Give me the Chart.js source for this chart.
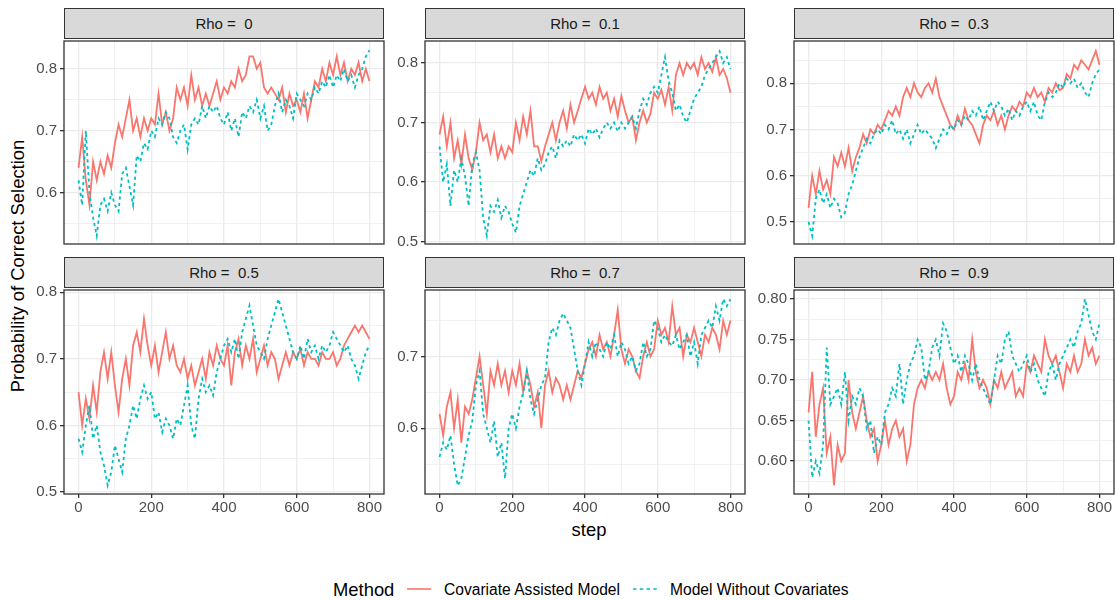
<!DOCTYPE html>
<html>
<head>
<meta charset="utf-8">
<script src="https://cdn.jsdelivr.net/npm/chart.js@4.4.1/dist/chart.umd.min.js"></script>
<style>
  body { margin: 0; background: #fff; font-family: "Liberation Sans", Arial, sans-serif; }
  #wrap { position: relative; width: 1116px; height: 600px; overflow: hidden; }
  #wrap canvas { position: absolute; }
  .strip { position: absolute; box-sizing: border-box; background: #D9D9D9; border: 1.3px solid #333333;
           color: #1A1A1A; font-size: 15px; text-align: center; white-space: pre; line-height: 29px; height: 31px; width: 320px; }
  .txt { position: absolute; white-space: pre; color: #000; }
</style>
</head>
<body>
<div id="wrap">
  <div class="txt" id="ytitle" style="left:-132px;top:254px;width:300px;height:24px;line-height:24px;font-size:18.4px;text-align:center;transform:rotate(-90deg);">Probability of Correct Selection</div>
  <div class="txt" style="left:489px;top:518px;width:200px;height:24px;line-height:24px;font-size:18.4px;text-align:center;">step</div>

  <div class="txt" style="left:333px;top:578px;height:24px;line-height:24px;font-size:18.4px;">Method</div>
  <svg style="position:absolute;left:407px;top:583px" width="24" height="12"><line x1="0" y1="6" x2="24" y2="6" stroke="#F8766D" stroke-width="1.6"/></svg>
  <div class="txt" style="left:444px;top:578px;height:24px;line-height:24px;font-size:15.6px;">Covariate Assisted Model</div>
  <svg style="position:absolute;left:633px;top:583px" width="24" height="12"><line x1="0" y1="6" x2="24" y2="6" stroke="#00BFC4" stroke-width="1.6" stroke-dasharray="3.4 3.4"/></svg>
  <div class="txt" style="left:670px;top:578px;height:24px;line-height:24px;font-size:15.6px;">Model Without Covariates</div>
</div>
<script>
// step index (every 10th step)
const steps = [
  0, 10, 20, 30, 40, 50, 60, 70, 80, 90,
  100, 110, 120, 130, 140, 150, 160, 170, 180, 190,
  200, 210, 220, 230, 240, 250, 260, 270, 280, 290,
  300, 310, 320, 330, 340, 350, 360, 370, 380, 390,
  400, 410, 420, 430, 440, 450, 460, 470, 480, 490,
  500, 510, 520, 530, 540, 550, 560, 570, 580, 590,
  600, 610, 620, 630, 640, 650, 660, 670, 680, 690,
  700, 710, 720, 730, 740, 750, 760, 770, 780, 790,
  800
];

const facetLabels = ['Rho =  0', 'Rho =  0.1', 'Rho =  0.3', 'Rho =  0.5', 'Rho =  0.7', 'Rho =  0.9'];

// Covariate Assisted Model
const covRho0 = [
  0.64, 0.69, 0.62, 0.58, 0.65, 0.62, 0.65, 0.63, 0.66, 0.64,
  0.68, 0.71, 0.69, 0.72, 0.75, 0.70, 0.72, 0.69, 0.72, 0.70,
  0.72, 0.71, 0.76, 0.71, 0.73, 0.70, 0.72, 0.77, 0.75, 0.77,
  0.74, 0.79, 0.75, 0.77, 0.74, 0.76, 0.74, 0.76, 0.78, 0.75,
  0.77, 0.76, 0.78, 0.77, 0.80, 0.78, 0.79, 0.82, 0.82, 0.80,
  0.81, 0.77, 0.76, 0.77, 0.76, 0.75, 0.77, 0.73, 0.76, 0.74,
  0.75, 0.73, 0.76, 0.72, 0.75, 0.78, 0.77, 0.80, 0.78, 0.81,
  0.79, 0.82, 0.79, 0.81, 0.78, 0.80, 0.79, 0.81, 0.78, 0.80,
  0.78
];
const covRho01 = [
  0.68, 0.71, 0.66, 0.70, 0.64, 0.67, 0.63, 0.68, 0.64, 0.62,
  0.65, 0.70, 0.67, 0.68, 0.65, 0.68, 0.64, 0.66, 0.64, 0.66,
  0.65, 0.70, 0.67, 0.71, 0.68, 0.72, 0.66, 0.66, 0.635, 0.66,
  0.68, 0.70, 0.67, 0.70, 0.72, 0.69, 0.73, 0.70, 0.72, 0.74,
  0.76, 0.74, 0.75, 0.73, 0.76, 0.74, 0.75, 0.72, 0.74, 0.71,
  0.745, 0.72, 0.70, 0.71, 0.67, 0.70, 0.72, 0.70, 0.715, 0.75,
  0.74, 0.755, 0.73, 0.76, 0.72, 0.78, 0.80, 0.78, 0.80, 0.79,
  0.80, 0.78, 0.81, 0.79, 0.80, 0.785, 0.81, 0.78, 0.79, 0.775,
  0.75
];
const covRho03 = [
  0.53, 0.60, 0.56, 0.61, 0.57, 0.59, 0.56, 0.64, 0.62, 0.65,
  0.62, 0.66, 0.61, 0.64, 0.66, 0.69, 0.67, 0.70, 0.69, 0.71,
  0.70, 0.72, 0.74, 0.73, 0.75, 0.73, 0.77, 0.79, 0.77, 0.80,
  0.78, 0.77, 0.79, 0.80, 0.78, 0.81, 0.77, 0.75, 0.73, 0.71,
  0.70, 0.73, 0.71, 0.745, 0.72, 0.71, 0.69, 0.67, 0.71, 0.73,
  0.72, 0.74, 0.71, 0.73, 0.70, 0.73, 0.75, 0.74, 0.76, 0.75,
  0.78, 0.77, 0.79, 0.77, 0.78, 0.76, 0.79, 0.78, 0.80, 0.785,
  0.79, 0.82, 0.81, 0.84, 0.83, 0.85, 0.84, 0.83, 0.85, 0.87,
  0.84
];
const covRho05 = [
  0.65, 0.60, 0.64, 0.61, 0.66, 0.62, 0.68, 0.71, 0.67, 0.71,
  0.66, 0.62, 0.67, 0.70, 0.66, 0.72, 0.74, 0.71, 0.76, 0.72,
  0.69, 0.72, 0.68, 0.71, 0.74, 0.70, 0.72, 0.69, 0.68, 0.70,
  0.67, 0.69, 0.66, 0.68, 0.70, 0.67, 0.71, 0.69, 0.72, 0.70,
  0.69, 0.72, 0.66, 0.71, 0.73, 0.69, 0.72, 0.70, 0.73, 0.68,
  0.70, 0.72, 0.69, 0.71, 0.70, 0.67, 0.69, 0.71, 0.69, 0.71,
  0.70, 0.715, 0.69, 0.71, 0.70, 0.70, 0.69, 0.71, 0.70, 0.70,
  0.71, 0.69, 0.70, 0.72, 0.73, 0.74, 0.75, 0.74, 0.75, 0.74,
  0.73
];
const covRho07 = [
  0.62, 0.59, 0.63, 0.65, 0.60, 0.64, 0.58, 0.63, 0.62, 0.64,
  0.67, 0.70, 0.66, 0.62, 0.68, 0.66, 0.69, 0.66, 0.68, 0.65,
  0.68, 0.66, 0.69, 0.65, 0.68, 0.66, 0.63, 0.65, 0.60, 0.66,
  0.68, 0.65, 0.67, 0.66, 0.64, 0.66, 0.64, 0.66, 0.68, 0.67,
  0.69, 0.71, 0.72, 0.70, 0.73, 0.71, 0.72, 0.70, 0.73, 0.765,
  0.71, 0.69, 0.71, 0.70, 0.68, 0.67, 0.70, 0.72, 0.70, 0.71,
  0.75, 0.73, 0.74, 0.72, 0.77, 0.73, 0.74, 0.70, 0.73, 0.72,
  0.74, 0.72, 0.70, 0.73, 0.72, 0.74, 0.73, 0.71, 0.75, 0.73,
  0.75
];
const covRho09 = [
  0.66, 0.71, 0.63, 0.67, 0.69, 0.61, 0.63, 0.57, 0.62, 0.60,
  0.61, 0.70, 0.66, 0.64, 0.66, 0.68, 0.65, 0.63, 0.64, 0.60,
  0.62, 0.65, 0.62, 0.64, 0.65, 0.63, 0.64, 0.60, 0.62, 0.67,
  0.69, 0.70, 0.69, 0.71, 0.70, 0.71, 0.70, 0.72, 0.69, 0.67,
  0.68, 0.71, 0.70, 0.72, 0.70, 0.75, 0.71, 0.69, 0.70, 0.69,
  0.67, 0.70, 0.69, 0.71, 0.69, 0.70, 0.71, 0.68, 0.69, 0.68,
  0.72, 0.71, 0.73, 0.72, 0.71, 0.75, 0.73, 0.72, 0.73, 0.71,
  0.69, 0.72, 0.71, 0.73, 0.71, 0.72, 0.75, 0.73, 0.74, 0.72,
  0.73
];

// Model Without Covariates
const noCovRho0 = [
  0.62, 0.58, 0.70, 0.60, 0.56, 0.53, 0.58, 0.59, 0.57, 0.60,
  0.58, 0.57, 0.63, 0.64, 0.61, 0.58, 0.66, 0.65, 0.68, 0.67,
  0.70, 0.69, 0.72, 0.71, 0.73, 0.72, 0.69, 0.68, 0.70, 0.71,
  0.67, 0.71, 0.72, 0.71, 0.74, 0.72, 0.74, 0.73, 0.74, 0.72,
  0.71, 0.73, 0.70, 0.72, 0.69, 0.73, 0.72, 0.74, 0.73, 0.75,
  0.72, 0.74, 0.70, 0.71, 0.74, 0.76, 0.73, 0.75, 0.74, 0.72,
  0.76, 0.75, 0.74, 0.76, 0.75, 0.77, 0.76, 0.78, 0.77, 0.79,
  0.77, 0.79, 0.78, 0.80, 0.78, 0.79, 0.77, 0.79, 0.80, 0.82,
  0.83
];
const noCovRho01 = [
  0.66, 0.60, 0.63, 0.56, 0.62, 0.60, 0.64, 0.61, 0.56, 0.63,
  0.65, 0.62, 0.54, 0.51, 0.56, 0.55, 0.57, 0.54, 0.56, 0.55,
  0.53, 0.515, 0.56, 0.58, 0.60, 0.62, 0.61, 0.64, 0.62, 0.63,
  0.65, 0.66, 0.64, 0.67, 0.66, 0.67, 0.66, 0.68, 0.67, 0.68,
  0.665, 0.69, 0.68, 0.69, 0.675, 0.69, 0.70, 0.69, 0.70, 0.685,
  0.70, 0.69, 0.70, 0.71, 0.69, 0.72, 0.74, 0.73, 0.75, 0.76,
  0.75, 0.78, 0.81, 0.77, 0.75, 0.72, 0.73, 0.71, 0.70, 0.72,
  0.74, 0.75, 0.76, 0.78, 0.79, 0.80, 0.81, 0.82, 0.80, 0.81,
  0.79
];
const noCovRho03 = [
  0.50, 0.47, 0.55, 0.57, 0.54, 0.56, 0.53, 0.55, 0.54, 0.51,
  0.52, 0.56, 0.58, 0.61, 0.64, 0.66, 0.68, 0.67, 0.69, 0.70,
  0.69, 0.71, 0.70, 0.72, 0.69, 0.70, 0.68, 0.70, 0.67, 0.69,
  0.71, 0.69, 0.70, 0.69, 0.68, 0.66, 0.68, 0.70, 0.69, 0.71,
  0.70, 0.72, 0.71, 0.73, 0.72, 0.74, 0.73, 0.75, 0.72, 0.74,
  0.76, 0.74, 0.76, 0.75, 0.73, 0.745, 0.72, 0.74, 0.73, 0.75,
  0.76, 0.74, 0.76, 0.73, 0.72, 0.76, 0.78, 0.77, 0.78, 0.80,
  0.79, 0.81, 0.80, 0.81, 0.79, 0.80, 0.78, 0.77, 0.80, 0.82,
  0.83
];
const noCovRho05 = [
  0.58, 0.56, 0.60, 0.63, 0.58, 0.60, 0.56, 0.54, 0.51, 0.53,
  0.57, 0.55, 0.53, 0.58, 0.60, 0.63, 0.61, 0.64, 0.66, 0.64,
  0.65, 0.61, 0.62, 0.59, 0.61, 0.60, 0.58, 0.61, 0.60, 0.63,
  0.66, 0.60, 0.58, 0.64, 0.67, 0.65, 0.66, 0.645, 0.68, 0.70,
  0.72, 0.73, 0.71, 0.73, 0.70, 0.74, 0.76, 0.78, 0.75, 0.72,
  0.71, 0.70, 0.73, 0.75, 0.77, 0.79, 0.77, 0.75, 0.73, 0.71,
  0.70, 0.72, 0.70, 0.73, 0.71, 0.72, 0.70, 0.72, 0.71, 0.72,
  0.74, 0.73, 0.72, 0.71, 0.72, 0.70, 0.69, 0.67, 0.69, 0.71,
  0.72
];
const noCovRho07 = [
  0.56, 0.58, 0.57, 0.59, 0.55, 0.52, 0.53, 0.56, 0.59, 0.61,
  0.66, 0.68, 0.62, 0.60, 0.58, 0.61, 0.56, 0.58, 0.53, 0.60,
  0.62, 0.60, 0.63, 0.65, 0.68, 0.64, 0.62, 0.64, 0.66, 0.67,
  0.72, 0.74, 0.73, 0.75, 0.76, 0.75, 0.74, 0.71, 0.68, 0.66,
  0.69, 0.72, 0.70, 0.72, 0.71, 0.70, 0.72, 0.71, 0.73, 0.70,
  0.72, 0.71, 0.69, 0.70, 0.68, 0.69, 0.72, 0.70, 0.71, 0.75,
  0.74, 0.72, 0.73, 0.72, 0.715, 0.73, 0.71, 0.72, 0.73, 0.70,
  0.72, 0.69, 0.73, 0.74, 0.75, 0.74, 0.77, 0.75, 0.78, 0.77,
  0.78
];
const noCovRho09 = [
  0.65, 0.58, 0.60, 0.585, 0.62, 0.74, 0.67, 0.68, 0.69, 0.67,
  0.71, 0.65, 0.68, 0.67, 0.69, 0.68, 0.64, 0.65, 0.61, 0.63,
  0.62, 0.66, 0.67, 0.69, 0.68, 0.72, 0.67, 0.70, 0.72, 0.73,
  0.75, 0.74, 0.70, 0.71, 0.74, 0.75, 0.73, 0.77, 0.76, 0.74,
  0.72, 0.73, 0.71, 0.73, 0.72, 0.70, 0.72, 0.70, 0.69, 0.68,
  0.67, 0.70, 0.73, 0.72, 0.75, 0.76, 0.73, 0.72, 0.71, 0.72,
  0.73, 0.71, 0.72, 0.70, 0.69, 0.68, 0.71, 0.72, 0.70, 0.72,
  0.73, 0.74, 0.75, 0.74, 0.76, 0.77, 0.80, 0.78, 0.76, 0.75,
  0.77
];

// tick labels
const xBreaks = [0, 200, 400, 600, 800];
const xLabels = ['0', '200', '400', '600', '800'];
const yBreaksA = [0.6, 0.7, 0.8];
const yLabelsA = ['0.6', '0.7', '0.8'];
const yBreaksB = [0.5, 0.6, 0.7, 0.8];
const yLabelsB = ['0.5', '0.6', '0.7', '0.8'];
const yBreaksC = [0.6, 0.7];
const yLabelsC = ['0.6', '0.7'];
const yBreaksD = [0.60, 0.65, 0.70, 0.75, 0.80];
const yLabelsD = ['0.60', '0.65', '0.70', '0.75', '0.80'];

const RED = '#F8766D';
const CYAN = '#00BFC4';
const FONT = '"Liberation Sans", Arial, sans-serif';

// facet layout (plot area of each panel)
const panels = [
  { lab: facetLabels[0], cov: covRho0,  noCov: noCovRho0,  yMin: 0.517, yMax: 0.845, br: yBreaksA, bl: yLabelsA, left: 64,  top: 39,  h: 207, bottom: false },
  { lab: facetLabels[1], cov: covRho01, noCov: noCovRho01, yMin: 0.496, yMax: 0.837, br: yBreaksB, bl: yLabelsB, left: 425, top: 39,  h: 207, bottom: false },
  { lab: facetLabels[2], cov: covRho03, noCov: noCovRho03, yMin: 0.452, yMax: 0.8915, br: yBreaksB, bl: yLabelsB, left: 794, top: 39,  h: 207, bottom: false },
  { lab: facetLabels[3], cov: covRho05, noCov: noCovRho05, yMin: 0.497, yMax: 0.8034, br: yBreaksB, bl: yLabelsB, left: 64,  top: 288, h: 206, bottom: true },
  { lab: facetLabels[4], cov: covRho07, noCov: noCovRho07, yMin: 0.5084, yMax: 0.7926, br: yBreaksC, bl: yLabelsC, left: 425, top: 288, h: 206, bottom: true },
  { lab: facetLabels[5], cov: covRho09, noCov: noCovRho09, yMin: 0.5595, yMax: 0.811, br: yBreaksD, bl: yLabelsD, left: 794, top: 288, h: 206, bottom: true }
];

const panelBorder = {
  id: 'panelBorder',
  afterDraw(chart) {
    const { ctx, chartArea: a } = chart;
    ctx.save();
    ctx.strokeStyle = '#333333';
    ctx.lineWidth = 1.3;
    ctx.strokeRect(a.left, a.top, a.right - a.left, a.bottom - a.top);
    ctx.restore();
  }
};

const same = (a, b) => Math.abs(a - b) < 1e-9;
const wrap = document.getElementById('wrap');

panels.forEach(p => {
  const padTop = 10, padRight = 10, yAxisW = 45;
  const xAxisH = p.bottom ? 28 : 0;
  const padBottom = p.bottom ? 0 : 10;

  const cv = document.createElement('canvas');
  cv.width = yAxisW + 320 + padRight;
  cv.height = padTop + p.h + xAxisH + padBottom;
  cv.style.left = (p.left - yAxisW) + 'px';
  cv.style.top = (p.top - padTop) + 'px';
  wrap.appendChild(cv);

  const strip = document.createElement('div');
  strip.className = 'strip';
  strip.style.left = p.left + 'px';
  strip.style.top = (p.top - 31) + 'px';
  strip.textContent = p.lab;
  wrap.appendChild(strip);

  // minor breaks halfway between the major ones
  const half = (p.br[1] - p.br[0]) / 2;
  const yAll = [];
  p.br.forEach(v => yAll.push(v));
  yAll.push(p.br[0] - half);
  p.br.forEach(v => yAll.push(v + half));
  const yTicks = yAll.filter(v => v > p.yMin && v < p.yMax).sort((a, b) => a - b);
  const xTicks = [0, 100, 200, 300, 400, 500, 600, 700, 800];

  const isMajX = v => xBreaks.some(b => same(b, v));
  const isMajY = v => p.br.some(b => same(b, v));

  new Chart(cv, {
    type: 'line',
    data: {
      datasets: [
        {
          label: 'Model Without Covariates',
          data: steps.map((s, i) => ({ x: s, y: p.noCov[i] })),
          borderColor: CYAN, borderWidth: 1.8, borderDash: [3.2, 3.2],
          pointRadius: 0, tension: 0, order: 1
        },
        {
          label: 'Covariate Assisted Model',
          data: steps.map((s, i) => ({ x: s, y: p.cov[i] })),
          borderColor: RED, borderWidth: 1.8,
          pointRadius: 0, tension: 0, order: 2
        }
      ]
    },
    options: {
      responsive: false,
      animation: false,
      devicePixelRatio: 1,
      layout: { padding: { top: padTop, right: padRight, bottom: padBottom, left: 0 } },
      plugins: { legend: { display: false }, tooltip: { enabled: false } },
      scales: {
        x: {
          type: 'linear', min: -40, max: 840,
          afterBuildTicks: s => { s.ticks = xTicks.map(v => ({ value: v })); },
          afterFit: s => { s.height = xAxisH; },
          border: { display: false },
          grid: {
            color: '#EBEBEB',
            lineWidth: c => (c.tick && isMajX(c.tick.value)) ? 1.3 : 0.7,
            drawTicks: p.bottom, tickLength: 4, tickWidth: 1.3,
            tickColor: c => (c.tick && isMajX(c.tick.value)) ? '#333333' : 'rgba(0,0,0,0)'
          },
          ticks: {
            display: p.bottom, autoSkip: false, maxRotation: 0, padding: 1,
            color: '#4D4D4D', font: { size: 15, family: FONT },
            callback: v => { const i = xBreaks.findIndex(b => same(b, v)); return i < 0 ? '' : xLabels[i]; }
          }
        },
        y: {
          type: 'linear', min: p.yMin, max: p.yMax,
          afterBuildTicks: s => { s.ticks = yTicks.map(v => ({ value: v })); },
          afterFit: s => { s.width = yAxisW; },
          border: { display: false },
          grid: {
            color: '#EBEBEB',
            lineWidth: c => (c.tick && isMajY(c.tick.value)) ? 1.3 : 0.7,
            drawTicks: true, tickLength: 4, tickWidth: 1.3,
            tickColor: c => (c.tick && isMajY(c.tick.value)) ? '#333333' : 'rgba(0,0,0,0)'
          },
          ticks: {
            autoSkip: false, padding: 3,
            color: '#4D4D4D', font: { size: 15, family: FONT },
            callback: v => { const i = p.br.findIndex(b => same(b, v)); return i < 0 ? '' : p.bl[i]; }
          }
        }
      }
    },
    plugins: [panelBorder]
  });
});
</script>
</body>
</html>
